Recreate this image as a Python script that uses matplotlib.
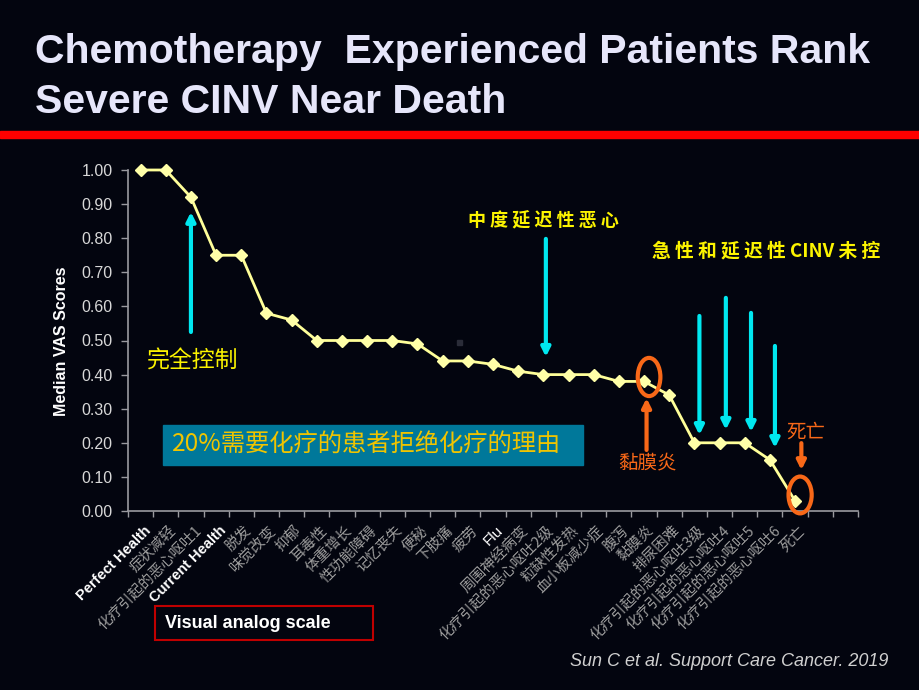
import matplotlib
matplotlib.use("Agg")
import matplotlib.pyplot as plt
from matplotlib.patches import Ellipse, Rectangle, FancyArrowPatch
from matplotlib.transforms import ScaledTranslation

# ---------------- data ----------------
categories = ["Perfect Health", "症状减轻", "化疗引起的恶心呕吐1", "Current Health", "脱发",
              "味觉改变", "抑郁", "耳毒性", "体重增长", "性功能障碍", "记忆丧失", "便秘",
              "下肢痛", "疲劳", "Flu", "周围神经病变", "化疗引起的恶心呕吐2级", "粒缺性发热",
              "血小板减少症", "腹泻", "黏膜炎", "排尿困难", "化疗引起的恶心呕吐3级",
              "化疗引起的恶心呕吐4", "化疗引起的恶心呕吐5", "化疗引起的恶心呕吐6", "死亡"]
vas_scores = [1.00, 1.00, 0.92, 0.75, 0.75, 0.58, 0.56, 0.50, 0.50, 0.50, 0.50, 0.49,
              0.44, 0.44, 0.43, 0.41, 0.40, 0.40, 0.40, 0.38, 0.38, 0.34, 0.20, 0.20,
              0.20, 0.15, 0.03]
y_ticks = [0.0, 0.1, 0.2, 0.3, 0.4, 0.5, 0.6, 0.7, 0.8, 0.9, 1.0]
n_slots = 29

title_lines = ["Chemotherapy  Experienced Patients Rank", "Severe CINV Near Death"]
ylabel = "Median VAS Scores"

BG = "#03050f"
W, H = 920, 690
CJK = ["Noto Sans CJK SC", "DejaVu Sans"]
SANS = ["Liberation Sans", "DejaVu Sans"]

fig = plt.figure(figsize=(W / 100, H / 100), dpi=100, facecolor=BG)


def fx(x):
    return x / W


def fy(y):
    return 1 - y / H


# title & red bar
for line, base in zip(title_lines, [63, 113]):
    fig.text(fx(35), fy(base), line, color="#e6e6fa", fontsize=29.5, fontweight="bold",
             family=SANS, ha="left", va="baseline")
fig.patches.append(Rectangle((0, fy(137.5)), 1, 6.5 / H, transform=fig.transFigure,
                             color="#ff0000", zorder=1))

# axes
ax = fig.add_axes([fx(128), fy(511), (858 - 128) / W, (511 - 170) / H])
ax.set_facecolor(BG)
ax.plot(range(len(vas_scores)), vas_scores, color="#ffff99", lw=2, marker="D",
        markersize=6.5, markerfacecolor="#ffffa8", markeredgecolor="#ffffa8",
        clip_on=False, zorder=5)
ax.set_xlim(-0.5, n_slots - 0.5)
ax.set_ylim(0, 1.0)
for s in ["top", "right"]:
    ax.spines[s].set_visible(False)
for s in ["left", "bottom"]:
    ax.spines[s].set_color("#9a9aa0")
    ax.spines[s].set_linewidth(1.2)

ax.set_yticks(y_ticks)
ax.set_yticklabels([f"{v:.2f}" for v in y_ticks], color="#d8d8d8", fontsize=11.5,
                   family=SANS)
ax.tick_params(axis="y", colors="#9a9aa0", length=5, width=1, labelcolor="#d8d8d8", pad=6)

ax.set_xticks([i - 0.5 for i in range(n_slots + 1)], minor=True)
ax.set_xticks(range(len(categories)))
ax.tick_params(axis="x", which="minor", colors="#9a9aa0", length=4, width=1)
ax.tick_params(axis="x", which="major", length=0, pad=9)
ax.set_xticklabels(categories, rotation=45, ha="right", rotation_mode="anchor")
offset = ScaledTranslation(3 / 100, 0, fig.dpi_scale_trans)
for lab in ax.get_xticklabels():
    t = lab.get_text()
    lab.set_transform(lab.get_transform() + offset)
    if t in ("Perfect Health", "Current Health"):
        lab.set_family(SANS)
        lab.set_fontweight("bold")
        lab.set_color("white")
        lab.set_fontsize(10.5)
    elif t == "Flu":
        lab.set_family(SANS)
        lab.set_color("white")
        lab.set_fontsize(11)
    else:
        lab.set_family(CJK)
        lab.set_color("#9c9c9c")
        lab.set_fontsize(10.5)

fig.text(fx(62), fy(341), ylabel, rotation=90, color="white", fontsize=11.5,
         fontweight="bold", family=SANS, ha="center", va="center")

# annotations
CYAN = "#00e8f0"
ORANGE = "#f86818"
YEL = "#fcf400"


def arrow(x0, y0, x1, y1, color, lw=3):
    ax.add_patch(FancyArrowPatch((x0, y0), (x1, y1), arrowstyle="-|>",
                                 mutation_scale=13, color=color, lw=lw,
                                 shrinkA=0, shrinkB=0, clip_on=False, zorder=6))


arrow(2, 0.525, 2, 0.877, CYAN)
arrow(16.1, 0.798, 16.1, 0.452, CYAN)
arrow(22.2, 0.572, 22.2, 0.223, CYAN)
arrow(23.25, 0.625, 23.25, 0.238, CYAN)
arrow(24.25, 0.581, 24.25, 0.232, CYAN)
arrow(25.2, 0.484, 25.2, 0.185, CYAN)
arrow(20.1, 0.179, 20.1, 0.331, ORANGE)
arrow(26.25, 0.199, 26.25, 0.120, ORANGE)

ax.add_patch(Ellipse((20.2, 0.393), 0.9, 0.112, fill=False, ec=ORANGE, lw=3,
                     clip_on=False, zorder=7))
ax.add_patch(Ellipse((26.2, 0.047), 0.92, 0.108, fill=False, ec=ORANGE, lw=3,
                     clip_on=False, zorder=7))

fig.text(fx(193), fy(361), "完全控制", color=YEL, fontsize=16.5, family=CJK,
         ha="center", va="center")
fig.text(fx(543), fy(221), "中 度 延 迟 性 恶 心", color=YEL, fontsize=13,
         fontweight="bold", family=CJK, ha="center", va="center")
fig.text(fx(766), fy(251), "急 性 和 延 迟 性 CINV 未 控", color=YEL, fontsize=13.5,
         fontweight="bold", family=CJK, ha="center", va="center")
fig.text(fx(647), fy(463), "黏膜炎", color=ORANGE, fontsize=14, family=CJK,
         ha="center", va="center")
fig.text(fx(806), fy(432), "死亡", color=ORANGE, fontsize=14, family=CJK,
         ha="center", va="center")

# teal box
fig.patches.append(Rectangle((fx(163), fy(465)), (583 - 163) / W, 40 / H,
                             transform=fig.transFigure, color="#00789a", zorder=3))
fig.text(fx(172), fy(445), "20%需要化疗的患者拒绝化疗的理由", color="#f0c400",
         fontsize=17.5, family=CJK, ha="left", va="center", zorder=4)

# small artifact square
fig.patches.append(Rectangle((fx(457), fy(345)), 5 / W, 5 / H, transform=fig.transFigure,
                             color="#2a2c38", zorder=2))

# visual analog scale box
fig.patches.append(Rectangle((fx(155), fy(640)), (373 - 155) / W, 34 / H,
                             transform=fig.transFigure, fill=False, ec="#c00000",
                             lw=1.5, zorder=3))
fig.text(fx(165), fy(623), "Visual analog scale", color="white", fontsize=13,
         fontweight="bold", family=SANS, ha="left", va="center")

fig.text(fx(888), fy(662), "Sun C et al. Support Care Cancer. 2019", color="#d0d0d0",
         fontsize=13, style="italic", family=SANS, ha="right", va="center")

fig.savefig("out.png", dpi=100, facecolor=BG)
